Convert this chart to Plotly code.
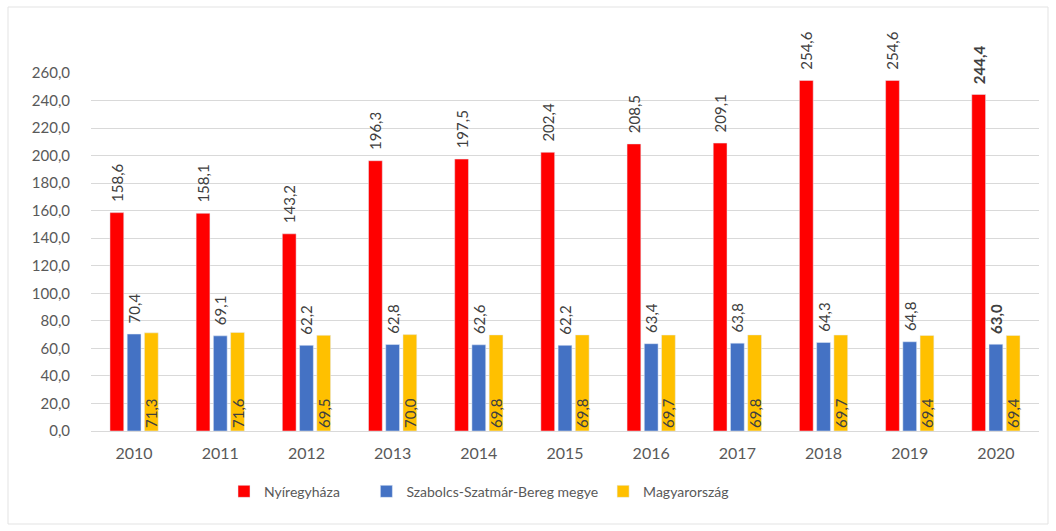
import plotly.graph_objects as go

years = ["2010", "2011", "2012", "2013", "2014", "2015", "2016", "2017", "2018", "2019", "2020"]
nyiregyhaza = [158.6, 158.1, 143.2, 196.3, 197.5, 202.4, 208.5, 209.1, 254.6, 254.6, 244.4]
megye = [70.4, 69.1, 62.2, 62.8, 62.6, 62.2, 63.4, 63.8, 64.3, 64.8, 63.0]
magyarorszag = [71.3, 71.6, 69.5, 70.0, 69.8, 69.8, 69.7, 69.8, 69.7, 69.4, 69.4]

FONT = "Lato, Carlito, Calibri, sans-serif"
GREY = "#595959"

W, H = 1056, 531
ML, MR, MT, MB = 91, 17, 73, 100


def hu(vals, pad="", bold_last=True):
    out = [pad + f"{v:.1f}".replace(".", ",") for v in vals]
    if bold_last:
        out[-1] = "<b>" + out[-1] + "</b>"  # last year is bold in the source
    return out


label_font = dict(size=15, color="#404040", family=FONT)
NB = "\u00a0\u00a0"

fig = go.Figure()
fig.add_bar(
    x=years, y=nyiregyhaza, name="Nyíregyháza" + "\u00a0" * 6,
    marker_color="#FF0000",
    text=hu(nyiregyhaza, NB), textposition="outside", textangle=-90,
    textfont=label_font, constraintext="none", cliponaxis=False,
)
fig.add_bar(
    x=years, y=megye, name="Szabolcs-Szatmár-Bereg megye",
    marker_color="#4472C4",
    text=hu(megye, NB), textposition="outside", textangle=-90,
    textfont=label_font, constraintext="none", cliponaxis=False,
)
fig.add_bar(
    x=years, y=magyarorszag, name="Magyarország",
    marker_color="#FFC000",
    text=hu(magyarorszag, bold_last=False), textposition="inside",
    insidetextanchor="start", textangle=-90, textfont=label_font,
    constraintext="none",
)

# faint outer frame, like the spreadsheet chart area
pw, ph = W - ML - MR, H - MT - MB
fig.add_shape(
    type="rect", xref="paper", yref="paper",
    x0=(8 - ML) / pw, x1=(1048 - ML) / pw,
    y0=(H - MB - 524) / ph, y1=(H - MB - 7) / ph,
    line=dict(color="#e3e3e3", width=1), layer="below",
)

fig.update_layout(
    width=W, height=H,
    margin=dict(l=ML, r=MR, t=MT, b=MB),
    plot_bgcolor="white", paper_bgcolor="white",
    barmode="group", bargap=0.4, bargroupgap=0.2,
    separators=", ",
    font=dict(family=FONT, size=14, color=GREY),
    legend=dict(
        orientation="h", x=(224 - ML) / pw, xanchor="left",
        y=-0.125, yanchor="top",
        font=dict(size=14, color=GREY), itemwidth=30,
    ),
    xaxis=dict(
        showgrid=False, tickfont=dict(size=16, color=GREY),
        showline=True, linecolor="#d9d9d9", ticks="", automargin=False,
        ticklabelstandoff=8,
    ),
    yaxis=dict(
        range=[0, 260], dtick=20, tickformat=".1f",
        gridcolor="#d9d9d9", zeroline=False, automargin=False,
        tickfont=dict(size=15, color=GREY), ticklabelstandoff=20,
    ),
)

# drop the browser's default 8px body margin so the figure sits at 0,0
fig.write_html(
    "out.html",
    config={"displayModeBar": False},
    post_script="document.body.style.margin='0';",
)
